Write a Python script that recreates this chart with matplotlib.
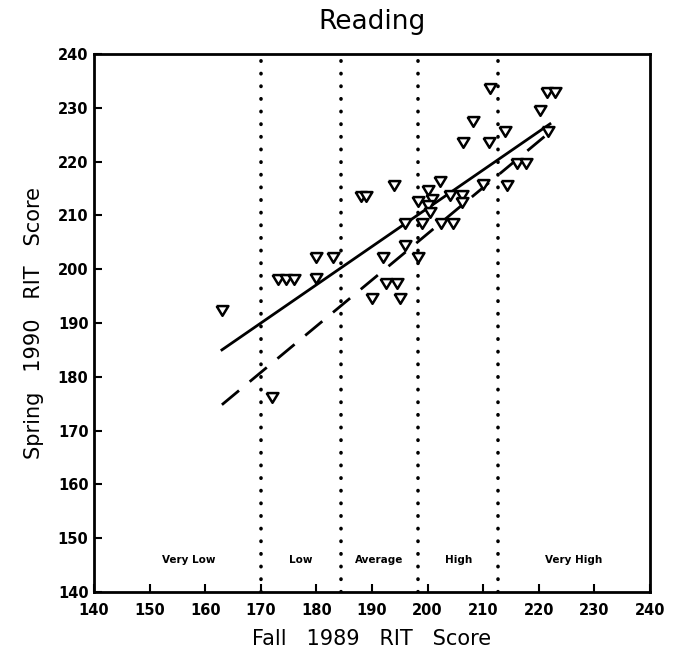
#!/usr/bin/env python3
"""Reading: Spring 1990 vs Fall 1989 RIT scores, with ability bands."""

import matplotlib
matplotlib.use("Agg")
import matplotlib.pyplot as plt

# Student scores (fall, spring)
fall = [163, 172, 173, 174.5, 176, 180, 180, 183, 188, 189, 194, 190, 195,
        192.5, 194.5, 192, 198.3, 196, 196, 199, 202.4, 204.6, 198.3, 200,
        200.8, 200, 200.4, 202.2, 204, 206.2, 206.2, 210, 214.3, 206.4, 211,
        208.2, 214, 211.2, 216, 217.7, 220.2, 221.5, 222.9, 221.7]
spring = [192.4, 176.2, 198.2, 198.2, 198.2, 198.4, 202.3, 202.3, 213.6,
          213.6, 215.6, 194.6, 194.6, 197.4, 197.4, 202.3, 202.3, 204.5,
          208.6, 208.6, 208.6, 208.6, 212.7, 214.7, 213, 211.9, 210.6, 216.4,
          213.8, 213.8, 212.5, 215.8, 215.6, 223.6, 223.6, 227.5, 225.7,
          233.7, 219.7, 219.7, 229.6, 232.9, 232.9, 225.7]

# Two fitted lines (end points)
fit_x = [163, 222]
solid_y = [185.0, 227.0]
dashed_y = [174.8, 225.5]

# Band boundaries and labels
band_edges = [170, 184.4, 198.3, 212.6]
band_names = ["Very Low", "Low", "Average", "High", "Very High"]
band_centers = [157, 177.2, 191.3, 205.5, 226.3]

ticks = list(range(140, 241, 10))

fig = plt.figure(figsize=(6.77, 6.59), dpi=100)
ax = fig.add_axes([0.1389, 0.1017, 0.8213, 0.8164])

for xe in band_edges:
    ax.axvline(xe, color="black", lw=2.6, ls=(0, (0.1, 3.4)),
               dash_capstyle="round", zorder=1)

ax.plot(fit_x, solid_y, color="black", lw=2, zorder=2)
ax.plot(fit_x, dashed_y, color="black", lw=2, ls=(0, (8, 5)), zorder=2)

tri = [(-1, 0.75), (1, 0.75), (0, -0.9), (-1, 0.75)]
ax.plot(fall, spring, ls="none", marker=tri, ms=8.5, mfc="white",
        mec="black", mew=1.8, zorder=3)

for name, xc in zip(band_names, band_centers):
    ax.text(xc, 146.0, name, ha="center", va="center", fontsize=7.5,
            fontweight="bold")

ax.set_xlim(140, 240)
ax.set_ylim(140, 240)
ax.set_xticks(ticks)
ax.set_yticks(ticks)
ax.tick_params(direction="in", length=6, width=1.5, labelsize=10.5)
ax.tick_params(axis="x", pad=8)
ax.tick_params(axis="y", pad=4)
for lab in ax.get_xticklabels() + ax.get_yticklabels():
    lab.set_fontweight("bold")
for spine in ax.spines.values():
    spine.set_linewidth(2)

ax.set_title("Reading", fontsize=19, pad=18)
ax.set_xlabel("Fall   1989   RIT   Score", fontsize=15, labelpad=8)
ax.set_ylabel("Spring   1990   RIT   Score", fontsize=15, labelpad=10)

fig.savefig("out.png", dpi=100)
